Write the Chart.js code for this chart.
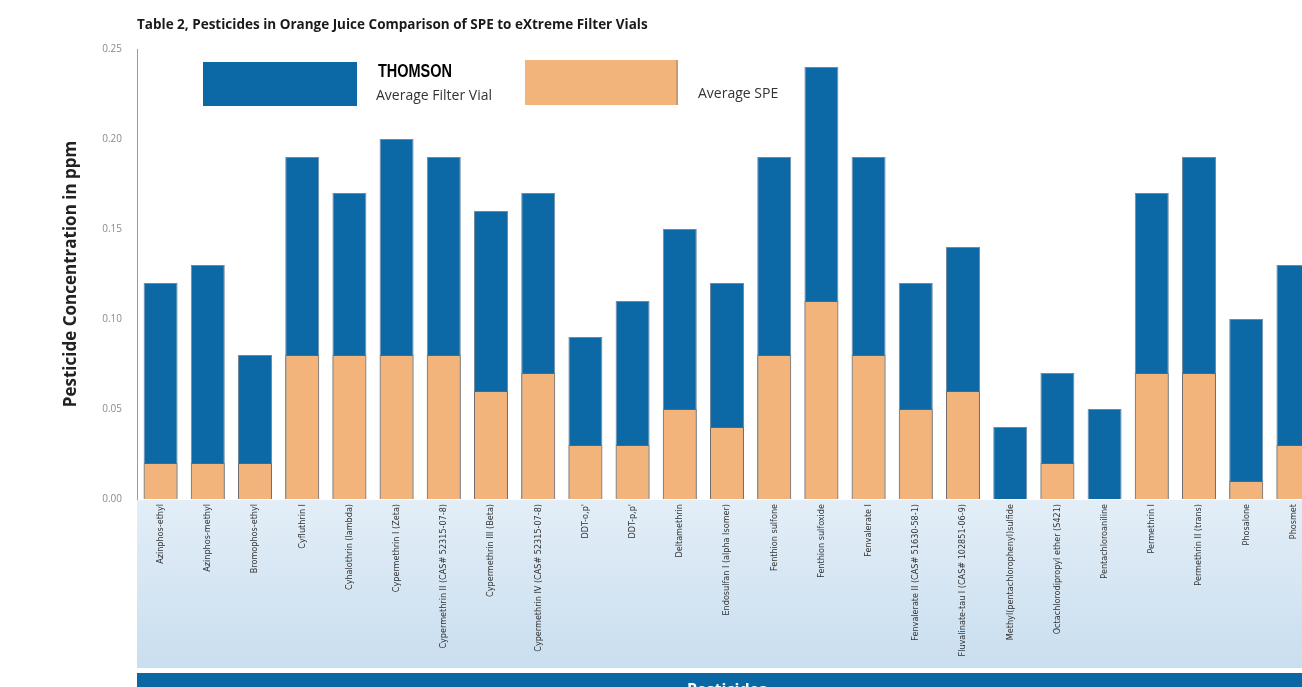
<!DOCTYPE html>
<html lang="en">
<head>
    <meta charset="UTF-8">
    <title>Pesticides in Orange Juice</title>
    <script src="https://cdn.jsdelivr.net/npm/chart.js"></script>
    <style>
        body {
            margin: 0;
            background: #ffffff;
            overflow: hidden;
        }
        #wrap {
            width: 1320px;
            height: 720px;
        }
    </style>
</head>
<body>
    <div id="wrap">
        <canvas id="pesticideChart" width="1320" height="720"></canvas>
    </div>

    <script>
        const pesticides = [
            'Azinphos-ethyl', 'Azinphos-methyl', 'Bromophos-ethyl', 'Cyfluthrin I',
            'Cyhalothrin (lambda)', 'Cypermethrin I (Zeta)', 'Cypermethrin II (CAS# 52315-07-8)',
            'Cypermethrin III (Beta)', 'Cypermethrin IV (CAS# 52315-07-8)', "DDT-o,p'", "DDT-p,p'",
            'Deltamethrin', 'Endosulfan I (alpha Isomer)', 'Fenthion sulfone', 'Fenthion sulfoxide',
            'Fenvalerate I', 'Fenvalerate II (CAS# 51630-58-1)', 'Fluvalinate-tau I (CAS# 102851-06-9)',
            'Methyl(pentachlorophenyl)sulfide', 'Octachlorodipropyl ether (S421)', 'Pentachloroaniline',
            'Permethrin I', 'Permethrin II (trans)', 'Phosalone', 'Phosmet'
        ];
        const filterVial = [0.12, 0.13, 0.08, 0.19, 0.17, 0.20, 0.19, 0.16, 0.17, 0.09, 0.11, 0.15,
                            0.12, 0.19, 0.24, 0.19, 0.12, 0.14, 0.04, 0.07, 0.05, 0.17, 0.19, 0.10, 0.13];
        const spe = [0.02, 0.02, 0.02, 0.08, 0.08, 0.08, 0.08, 0.06, 0.07, 0.03, 0.03, 0.05,
                     0.04, 0.08, 0.11, 0.08, 0.05, 0.06, 0.00, 0.02, 0.00, 0.07, 0.07, 0.01, 0.03];
        const yTicks = [0, 0.05, 0.10, 0.15, 0.20, 0.25];

        const BLUE = '#0d68a6';
        const ORANGE = '#f3b47c';

        // light strip behind the names, dark band behind the axis title, plus heading and legend
        const decorPlugin = {
            id: 'decor',
            beforeDraw(chart) {
                const { ctx, scales: { x } } = chart;
                ctx.save();
                const g = ctx.createLinearGradient(0, x.top, 0, x.top + 169);
                g.addColorStop(0, '#e3eef7');
                g.addColorStop(1, '#c9deef');
                ctx.fillStyle = g;
                ctx.fillRect(x.left, x.top + 1, x.width + 10, 168);
                ctx.fillStyle = '#0b67a3';
                ctx.fillRect(x.left, x.top + 174, x.width + 10, x.bottom - x.top - 174);
                ctx.restore();
            },
            afterDraw(chart) {
                const { ctx, chartArea } = chart;
                ctx.save();
                ctx.fillStyle = '#1a1a1a';
                ctx.font = 'bold 13.5px "Open Sans", sans-serif';
                ctx.textBaseline = 'alphabetic';
                ctx.fillText('Table 2, Pesticides in Orange Juice Comparison of SPE to eXtreme Filter Vials',
                    chartArea.left, 29, 516);

                // legend
                ctx.fillStyle = BLUE;
                ctx.fillRect(203, 62, 154, 44);
                ctx.fillStyle = ORANGE;
                ctx.fillRect(525, 60, 153, 45);
                ctx.fillStyle = '#c99a6c';
                ctx.fillRect(676, 60, 2, 45);

                ctx.fillStyle = '#000';
                ctx.font = 'bold 18px "Liberation Sans Narrow", "Liberation Sans", sans-serif';
                ctx.fillText('THOMSON', 378, 77, 74);
                ctx.fillStyle = '#333';
                ctx.font = '14px "Open Sans", sans-serif';
                ctx.fillText('Average Filter Vial', 376, 100, 121);
                ctx.fillText('Average SPE', 698, 98, 84);
                ctx.restore();
            }
        };

        new Chart(document.getElementById('pesticideChart'), {
            type: 'bar',
            data: {
                labels: pesticides,
                datasets: [
                    {
                        label: 'Average Filter Vial',
                        data: filterVial,
                        backgroundColor: BLUE,
                        borderColor: 'rgba(20, 60, 95, 0.6)',
                        borderWidth: 1,
                        order: 2
                    },
                    {
                        label: 'Average SPE',
                        data: spe,
                        backgroundColor: ORANGE,
                        borderColor: 'rgba(120, 100, 85, 0.7)',
                        borderWidth: 1,
                        order: 1
                    }
                ]
            },
            options: {
                responsive: false,
                animation: false,
                layout: { padding: { top: 49, right: 3, left: 0, bottom: 0 } },
                datasets: {
                    bar: { categoryPercentage: 1, barPercentage: 0.72 }
                },
                plugins: {
                    legend: { display: false },
                    tooltip: { enabled: false }
                },
                scales: {
                    x: {
                        stacked: true,
                        grid: { display: false, drawTicks: false },
                        border: { display: false },
                        afterFit(scale) { scale.height = 221; },
                        ticks: {
                            autoSkip: false,
                            maxRotation: 90,
                            minRotation: 90,
                            padding: 5,
                            color: '#333',
                            font: { family: '"Liberation Sans Narrow", "DejaVu Sans Condensed", sans-serif', size: 9 }
                        },
                        title: {
                            display: true,
                            text: 'Pesticides',
                            color: '#ffffff',
                            font: { family: '"Open Sans", sans-serif', size: 16, weight: 'bold' },
                            padding: { top: 0, bottom: 20 }
                        }
                    },
                    y: {
                        stacked: false,
                        min: 0,
                        max: 0.25,
                        afterFit(scale) { scale.width = 137; },
                        afterBuildTicks(scale) { scale.ticks = yTicks.map(v => ({ value: v })); },
                        grid: { display: false, drawTicks: false },
                        border: { display: true, color: '#9a9a9a', width: 1 },
                        ticks: {
                            padding: 15,
                            color: '#8a8a8a',
                            font: { family: '"Open Sans", sans-serif', size: 10 },
                            callback: v => v.toFixed(2)
                        },
                        title: {
                            display: true,
                            text: 'Pesticide Concentration in ppm',
                            color: '#222',
                            font: { family: '"Open Sans", sans-serif', size: 17, weight: 'bold' },
                            padding: { top: 61, bottom: 0 }
                        }
                    }
                }
            },
            plugins: [decorPlugin]
        });
    </script>
</body>
</html>
